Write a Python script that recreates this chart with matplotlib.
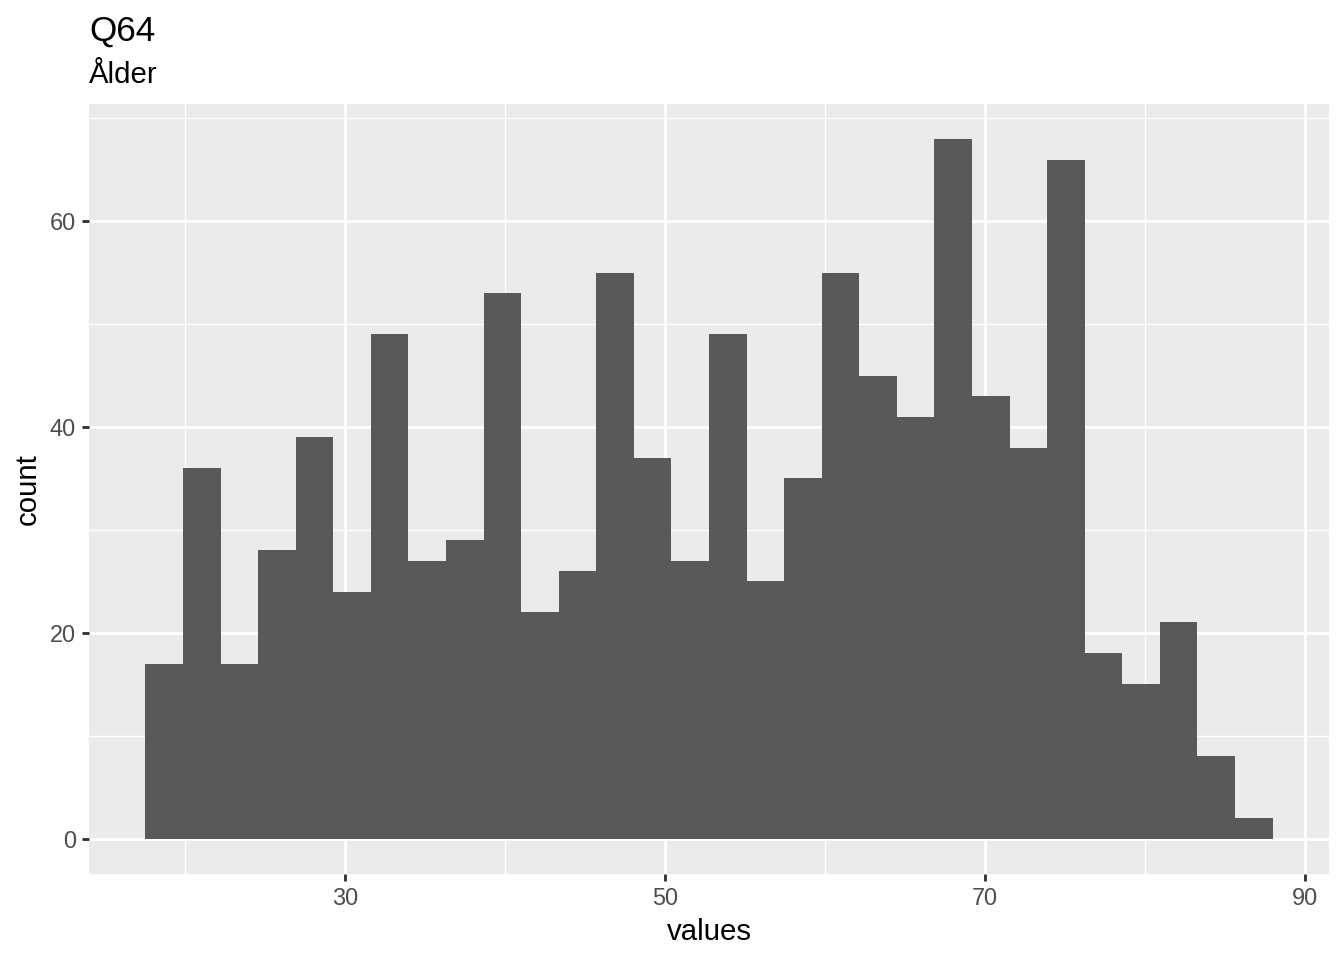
import numpy as np
import matplotlib
matplotlib.use("Agg")
import matplotlib.pyplot as plt

plt.rcParams['font.family'] = ['Liberation Sans', 'DejaVu Sans']

# histogram: 30 bins
bin_start = 17.55
bin_width = 2.347
counts = [17, 36, 17, 28, 39, 24, 49, 27, 29, 53, 22, 26, 55, 37, 27,
          49, 25, 35, 55, 45, 41, 68, 43, 38, 66, 18, 15, 21, 8, 2]
x_ticks = [30, 50, 70, 90]
x_minor = [20, 40, 60, 80]
y_ticks = [0, 20, 40, 60]
y_minor = [10, 30, 50, 70]

lefts = bin_start + bin_width * np.arange(len(counts))

fig = plt.figure(figsize=(7, 5), dpi=192)
ax = fig.add_axes([89 / 1344, 1 - 873.5 / 960, (1329 - 89) / 1344, (873.5 - 104) / 960])
ax.set_facecolor('#EBEBEB')

ax.bar(lefts, counts, width=bin_width, align='edge', color='#595959', linewidth=0, zorder=3)

# ggplot default 5% expansion
x0, x1 = lefts[0], lefts[-1] + bin_width
pad = (x1 - x0) * 0.05
ax.set_xlim(x0 - pad, x1 + pad)
ymax = max(counts)
ax.set_ylim(-ymax * 0.05, ymax * 1.05)

ax.set_xticks(x_ticks)
ax.set_yticks(y_ticks)
ax.set_xticks(x_minor, minor=True)
ax.set_yticks(y_minor, minor=True)

ax.grid(which='major', color='white', linewidth=1.07, zorder=1)
ax.grid(which='minor', color='white', linewidth=0.53, zorder=1)
ax.set_axisbelow(True)
for s in ax.spines.values():
    s.set_visible(False)

ax.tick_params(which='major', length=2.75, width=1.07, color='#333333',
               labelsize=8.8, labelcolor='#4D4D4D', pad=2.2)
ax.tick_params(which='minor', length=0)

ax.set_xlabel('values', fontsize=11, color='black', labelpad=3)
ax.set_ylabel('count', fontsize=11, color='black', labelpad=3)

fig.text(89 / 1344, 1 - 41 / 960, 'Q64', fontsize=13.2, ha='left', va='baseline')
fig.text(89 / 1344, 1 - 83 / 960, 'Ålder', fontsize=11, ha='left', va='baseline')

fig.savefig('out.png', dpi=192)
